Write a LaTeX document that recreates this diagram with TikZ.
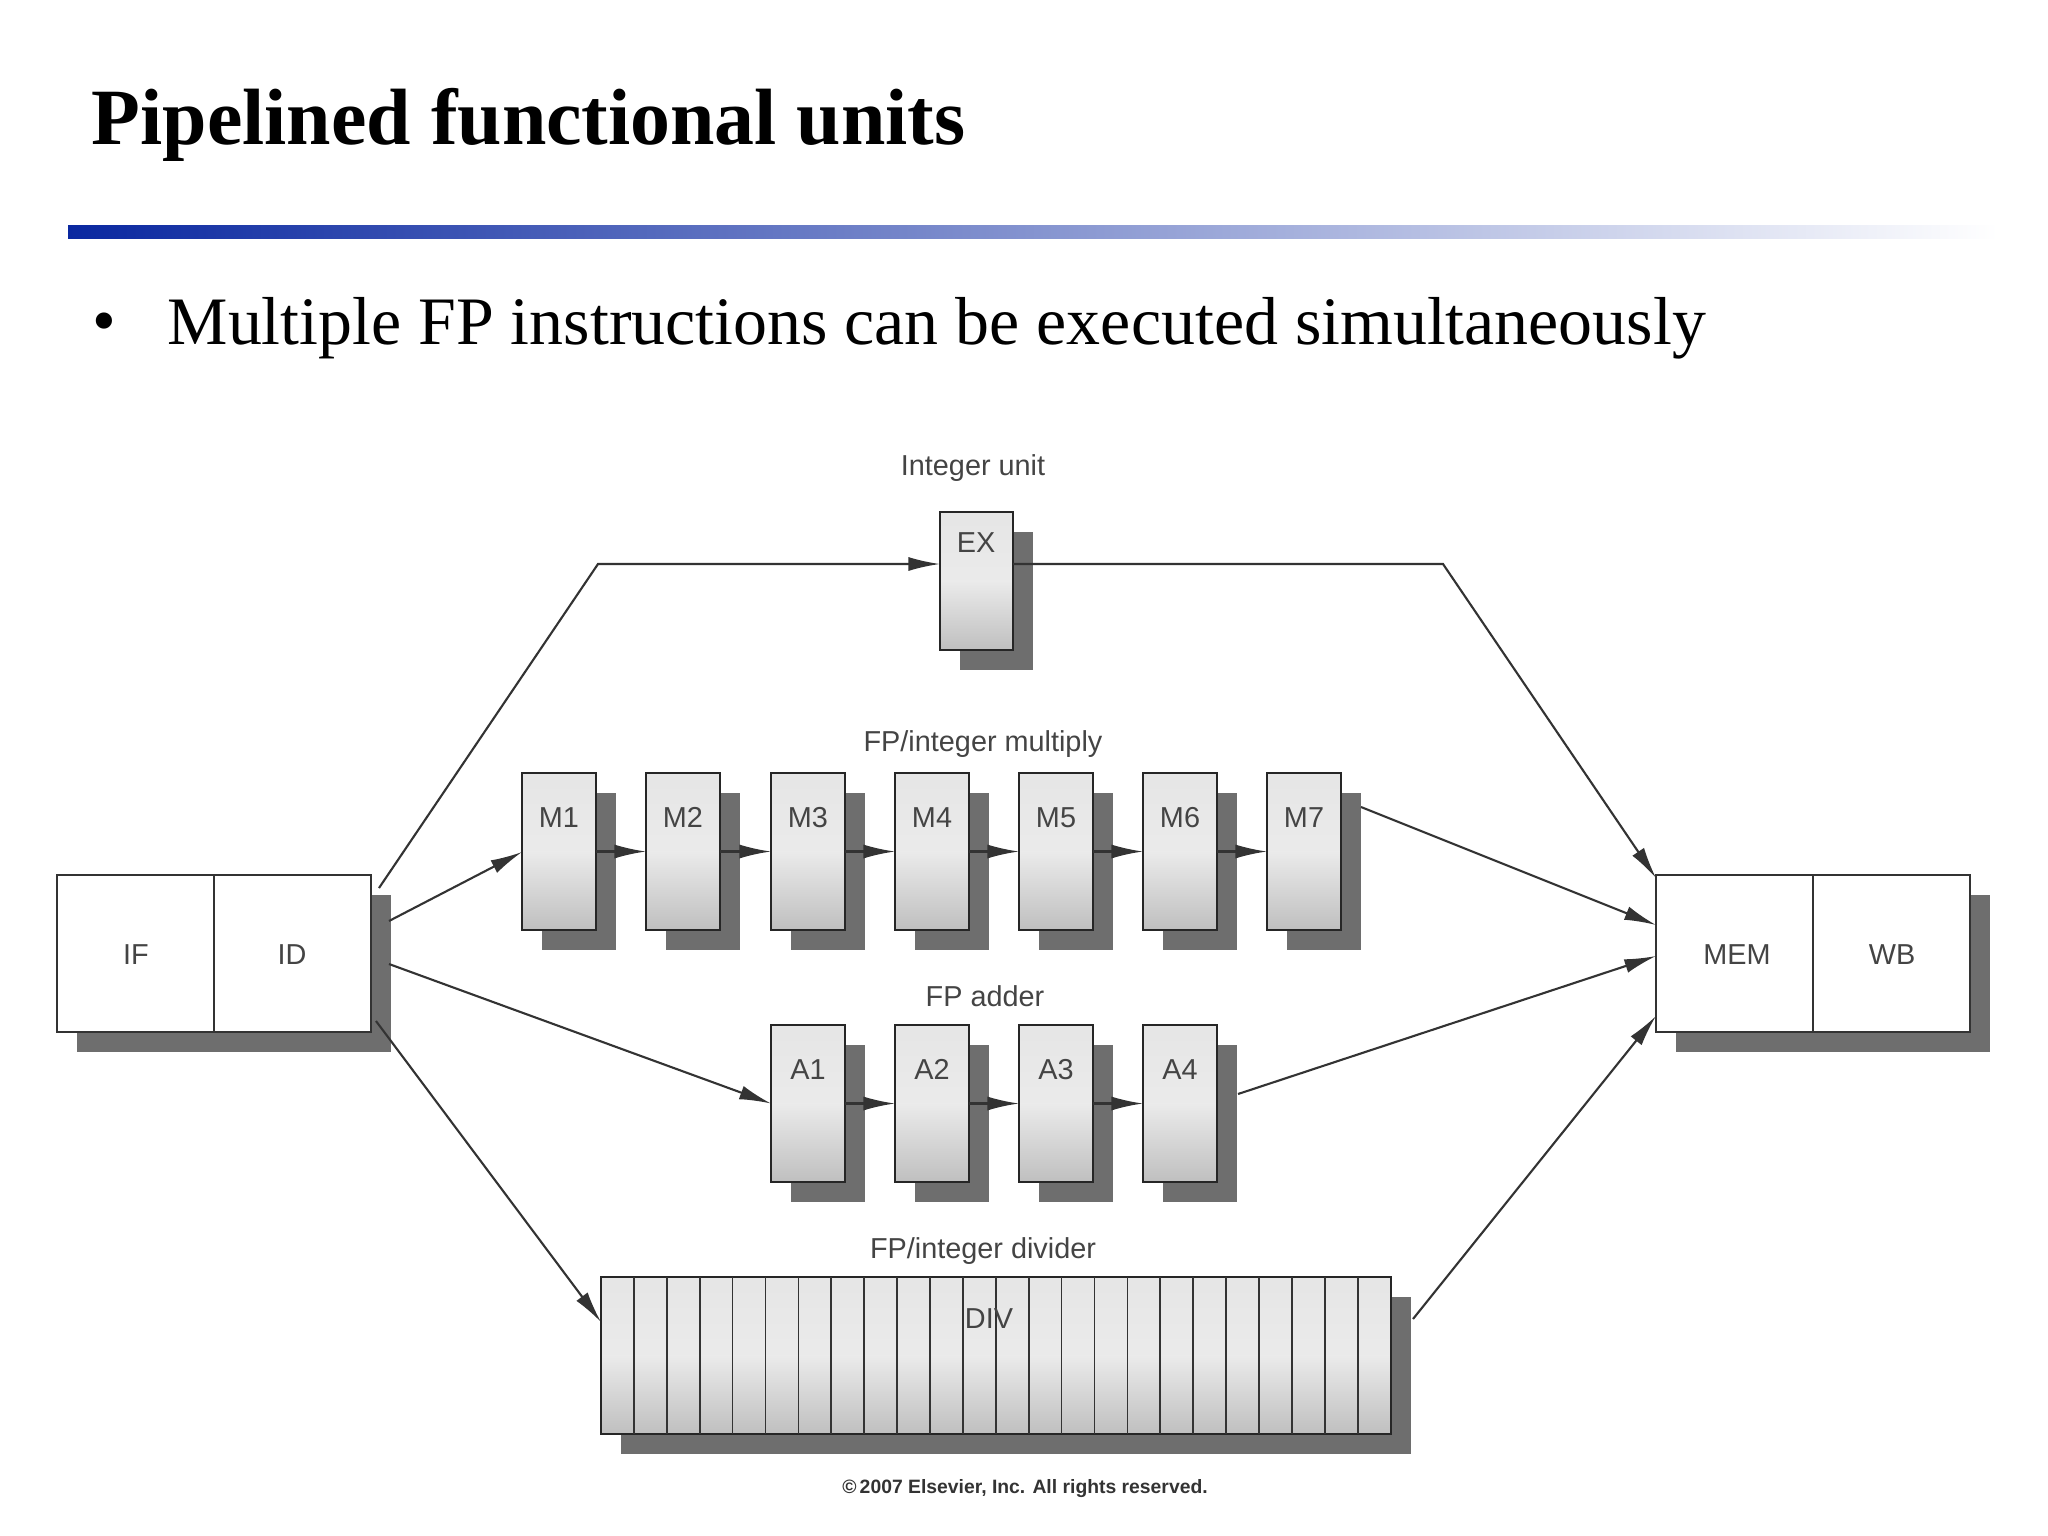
\documentclass[tikz,border=0pt]{standalone}
\usepackage{fontspec}
\setmainfont{Liberation Serif}
\newfontfamily\diag{Liberation Sans}
\usetikzlibrary{arrows.meta}
\definecolor{shad}{HTML}{6E6E6E}
\definecolor{txtg}{HTML}{444444}
\begin{document}
\begin{tikzpicture}[x=0.01cm,y=-0.01cm,
  unit/.style={draw=black!85,line width=0.6pt,top color=black!10,bottom color=black!25,middle color=black!8},
  lbl/.style={font=\diag\fontsize{8.2pt}{9pt}\selectfont,text=txtg},
  conn/.style={draw=black!80,line width=0.6pt,-{Latex[length=9pt,width=4pt]}}]
\useasboundingbox (0,0) rectangle (2048,1536);
% title
\node[anchor=west,inner sep=0pt,font=\bfseries\fontsize{22.7pt}{25pt}\selectfont] (title) at (91,125) {Pipelined functional units};
\shade[left color={rgb,255:red,10;green,40;blue,160},right color=white] (68,225) rectangle (1998,238);
\node[anchor=west,inner sep=0pt,font=\fontsize{19.3pt}{22pt}\selectfont] (bul) at (92,328) {\textbullet};
\node[anchor=west,inner sep=0pt,font=\fontsize{19.3pt}{22pt}\selectfont] (btxt) at (167,328) {Multiple FP instructions can be executed simultaneously};
\newcommand{\unitbox}[5]{% name, x, y, w, h
  \fill[shad] (#2+20,#3+20) rectangle (#2+#4+20,#3+#5+20);
  \draw[unit] (#2,#3) rectangle (#2+#4,#3+#5);
  \coordinate (#1w) at (#2,#3+#5/2);
  \coordinate (#1e) at (#2+#4,#3+#5/2);
}
% IF/ID
\fill[shad] (77,895) rectangle (391,1052);
\draw[fill=white,draw=black!80,line width=0.6pt] (57,875) rectangle (371,1032);
\draw[draw=black!80,line width=0.6pt] (214,875) -- (214,1032);
\node[lbl] (if) at (136,955) {IF};
\node[lbl] (id) at (292,955) {ID};
% MEM/WB
\fill[shad] (1676,895) rectangle (1990,1052);
\draw[fill=white,draw=black!80,line width=0.6pt] (1656,875) rectangle (1970,1032);
\draw[draw=black!80,line width=0.6pt] (1813,875) -- (1813,1032);
\node[lbl] (mem) at (1737,955) {MEM};
\node[lbl] (wb) at (1892,955) {WB};
% EX
\unitbox{ex}{940}{512}{73}{138}
\node[lbl,anchor=north] (exl) at (976,520) {EX};
\node[lbl] (intl) at (973,468) {Integer unit};
% M boxes
\foreach \i/\x in {1/522,2/646,3/771,4/895,5/1019,6/1143,7/1267}{
  \unitbox{m\i}{\x}{773}{74}{157}
  \node[lbl,anchor=north] (m\i l) at (\x+37,795) {M\i};
}
\node[lbl] (multl) at (983,744) {FP/integer multiply};
% A boxes
\foreach \i/\x in {1/771,2/895,3/1019,4/1143}{
  \unitbox{a\i}{\x}{1025}{74}{157}
  \node[lbl,anchor=north] (a\i l) at (\x+37,1047) {A\i};
}
\node[lbl] (addl) at (985,996) {FP adder};
% DIV
\fill[shad] (621,1297) rectangle (1411,1454);
\draw[unit] (601,1277) rectangle (1391,1434);
\foreach \k in {1,...,23}{\draw[black!80,line width=0.5pt] (601+\k*32.9,1277) -- (601+\k*32.9,1434);}
\coordinate (divw) at (601,1322);
\coordinate (dive) at (1413,1319);
\node[lbl] (divl) at (989,1319) {DIV};
\node[lbl] (divt) at (983,1251) {FP/integer divider};
\node[font=\diag\bfseries\fontsize{5.5pt}{7pt}\selectfont,text=black!80] (copy) at (1025,1489) {\textcopyright\,2007 Elsevier, Inc. All rights reserved.};
% connectors
\coordinate (idA) at (379,888); \coordinate (b1) at (598,564);
\draw[conn] (idA) -- (b1) -- (exw|-b1);
\coordinate (b2) at (1443,564); \coordinate (memA) at (1656,878);
\draw[conn] (exe|-b2) -- (b2) -- (memA);
\coordinate (idB) at (389,921); \draw[conn] (idB) -- (522,852);
\coordinate (idC) at (389,964); \draw[conn] (idC) -- (a1w);
\coordinate (idD) at (376,1021); \draw[conn] (idD) -- (divw);
\draw[conn] (1361,807) -- (1656,925);
\draw[conn] (1238,1094) -- (1656,956);
\draw[conn] (dive) -- (1656,1016);
\foreach \a/\b in {1/2,2/3,3/4,4/5,5/6,6/7}{\draw[conn] (m\a e) -- (m\b w);}
\foreach \a/\b in {1/2,2/3,3/4}{\draw[conn] (a\a e) -- (a\b w);}
\end{tikzpicture}
\end{document}
